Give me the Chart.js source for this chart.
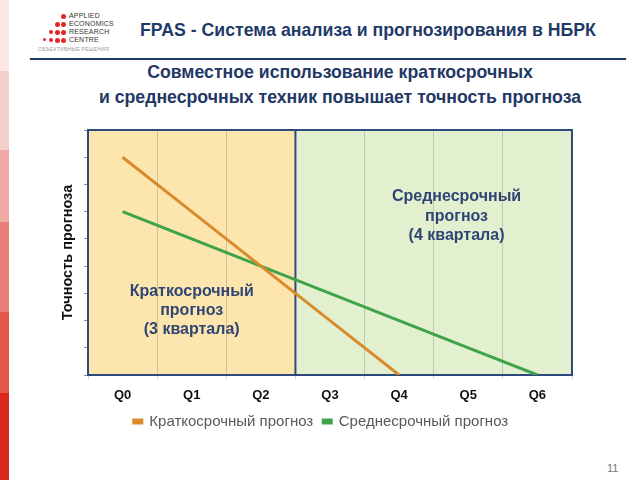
<!DOCTYPE html>
<html>
<head>
<meta charset="utf-8">
<script src="https://cdn.jsdelivr.net/npm/chart.js@4.4.1/dist/chart.umd.min.js"></script>
<style>
  body { margin: 0; width: 640px; height: 480px; position: relative; overflow: hidden; background: #fff;
         font-family: "Liberation Sans", Arial, sans-serif; }
  .strip { position: absolute; left: 0; width: 9px; }
  .dot { position: absolute; width: 5px; height: 5px; border-radius: 50%; background: #e0262a; }
  .logo-t { position: absolute; left: 69px; font-size: 7px; color: #333; line-height: 8px; letter-spacing: 0.2px; }
  #title { position: absolute; left: 140px; top: 20px; font-size: 17.7px; font-weight: bold; color: #1f3a68; line-height: 20px; white-space: nowrap; }
  #rule { position: absolute; left: 30px; top: 58px; width: 596px; height: 2px; background: #1f3864; }
  #sub { position: absolute; left: 40px; top: 60px; width: 600px; text-align: center; font-size: 17.7px; font-weight: bold;
         color: #1f3864; line-height: 25px; white-space: nowrap; }
  #wrap { position: absolute; left: 0; top: 115px; width: 640px; height: 324px; }
  #page { position: absolute; left: 607px; top: 462px; font-size: 11px; color: #777; }
</style>
</head>
<body>
<div class="strip" style="top:0;height:71px;background:#fde8e8"></div>
<div class="strip" style="top:71px;height:79px;background:#f5d0cc"></div>
<div class="strip" style="top:150px;height:72px;background:#eeaaa5"></div>
<div class="strip" style="top:222px;height:90px;background:#e97e78"></div>
<div class="strip" style="top:312px;height:81px;background:#e2564b"></div>
<div class="strip" style="top:393px;height:87px;background:#db2a1d"></div>

<!-- logo -->
<div class="dot" style="left:61px;top:14px"></div>
<div class="dot" style="left:55px;top:22px"></div><div class="dot" style="left:61px;top:22px"></div>
<div class="dot" style="left:49px;top:30px;width:4px;height:4px"></div><div class="dot" style="left:55px;top:30px"></div><div class="dot" style="left:61px;top:30px"></div>
<div class="dot" style="left:43px;top:38px;width:3px;height:3px"></div><div class="dot" style="left:49px;top:38px;width:4px;height:4px"></div><div class="dot" style="left:55px;top:38px"></div><div class="dot" style="left:61px;top:38px"></div>
<div class="logo-t" style="top:12px">APPLIED</div>
<div class="logo-t" style="top:20px">ECONOMICS</div>
<div class="logo-t" style="top:28px">RESEARCH</div>
<div class="logo-t" style="top:36px">CENTRE</div>
<div style="position:absolute;left:38px;top:46px;font-size:5px;color:#999;letter-spacing:0.3px">ОБЪЕКТИВНЫЕ РЕШЕНИЯ</div>

<div id="title">FPAS - Система анализа и прогнозирования в НБРК</div>
<div id="rule"></div>
<div id="sub">Совместное использование краткосрочных<br>и среднесрочных техник повышает точность прогноза</div>

<div id="wrap"><canvas id="chart"></canvas></div>
<div id="page">11</div>

<script>
const quarters = ["Q0", "Q1", "Q2", "Q3", "Q4", "Q5", "Q6"];
const shortTerm = [8, 6, 4, 2, 0, null, null];
const mediumTerm = [6, 5, 4, 3, 2, 1, 0];
const shortLabel = "Краткосрочный прогноз";
const mediumLabel = "Среднесрочный прогноз";
const shortNote = ["Краткосрочный", "прогноз", "(3 квартала)"];
const mediumNote = ["Среднесрочный", "прогноз", "(4 квартала)"];

const navy = "#2e4a7c";

// shaded zones, frame, divider and notes
const zones = {
  id: "zones",
  beforeDraw(chart) {
    const { ctx, chartArea: a, scales: { x } } = chart;
    const split = (x.getPixelForValue(2) + x.getPixelForValue(3)) / 2;
    ctx.save();
    ctx.fillStyle = "#fde5ae";
    ctx.fillRect(a.left, a.top, split - a.left, a.height);
    ctx.fillStyle = "#e2f0cf";
    ctx.fillRect(split, a.top, a.right - split, a.height);
    ctx.restore();
  },
  beforeDatasetsDraw(chart) {
    const { ctx, chartArea: a, scales: { x } } = chart;
    const split = (x.getPixelForValue(2) + x.getPixelForValue(3)) / 2;
    ctx.save();
    ctx.strokeStyle = navy;
    ctx.lineWidth = 2;
    ctx.strokeRect(a.left, a.top, a.width, a.height);
    ctx.beginPath();
    ctx.moveTo(split, a.top);
    ctx.lineTo(split, a.bottom);
    ctx.stroke();
    ctx.restore();
  },
  afterDatasetsDraw(chart) {
    const { ctx, scales: { x, y } } = chart;
    ctx.save();
    ctx.fillStyle = "#2f4574";
    ctx.font = "bold 16px 'Liberation Sans', Arial, sans-serif";
    ctx.textAlign = "center";
    ctx.textBaseline = "middle";
    let y0 = y.getPixelForValue(3.05);
    shortNote.forEach((t, i) => ctx.fillText(t, x.getPixelForValue(1), y0 + i * 19));
    y0 = y.getPixelForValue(6.55);
    mediumNote.forEach((t, i) => ctx.fillText(t, x.getPixelForValue(4.83), y0 + i * 19.5));
    ctx.restore();
  }
};

new Chart(document.getElementById("chart"), {
  type: "line",
  data: {
    labels: quarters,
    datasets: [
      { label: shortLabel, data: shortTerm, borderColor: "#d98a2b", backgroundColor: "#e0893a",
        borderWidth: 3, pointRadius: 0, fill: false },
      { label: mediumLabel, data: mediumTerm, borderColor: "#3fa34a", backgroundColor: "#3fa34a",
        borderWidth: 3, pointRadius: 0, fill: false }
    ]
  },
  options: {
    responsive: true,
    maintainAspectRatio: false,
    animation: false,
    layout: { padding: { top: 15, right: 68, left: 70, bottom: 0 } },
    plugins: {
      legend: {
        position: "bottom",
        labels: {
          boxWidth: 8, boxHeight: 3, padding: 10, color: "#595959",
          font: { size: 15, family: "'Liberation Sans', Arial, sans-serif" }
        }
      },
      tooltip: { enabled: false }
    },
    scales: {
      x: {
        offset: true,
        afterFit: s => { s.height = 29; },
        grid: { offset: true, color: "rgba(110,110,110,0.3)", tickLength: 4, drawTicks: true },
        border: { color: navy, width: 2 },
        ticks: { color: "#111", padding: 9, font: { size: 13, weight: "bold", family: "'Liberation Sans', Arial, sans-serif" } }
      },
      y: {
        min: 0, max: 9,
        afterFit: s => { s.width = 18; },
        ticks: { display: false, stepSize: 1 },
        grid: { drawOnChartArea: false, drawTicks: true, tickLength: 4, color: "#8a8a8a" },
        border: { color: navy, width: 2 },
        title: {
          display: true, text: "Точность прогноза", color: "#111",
          padding: { top: -10.7, bottom: 0 },
          font: { size: 14.5, weight: "bold", family: "'Liberation Sans', Arial, sans-serif" }
        }
      }
    }
  },
  plugins: [zones]
});
</script>
</body>
</html>
